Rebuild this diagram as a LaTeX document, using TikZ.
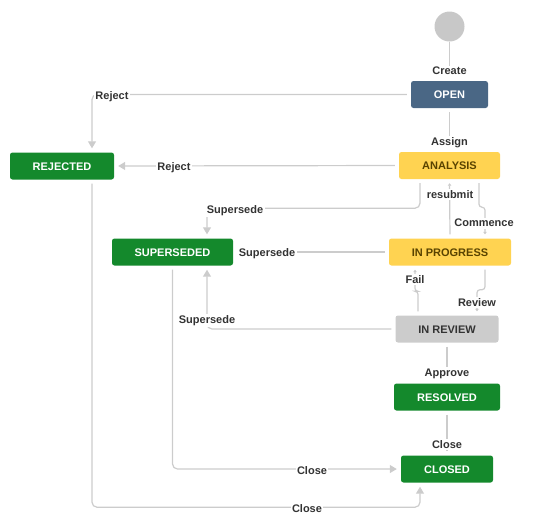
\documentclass[tikz,border=0pt]{standalone}
\usepackage{fontspec}
\setmainfont{Liberation Sans}
\usetikzlibrary{arrows.meta}
\definecolor{jgreen}{HTML}{14892C}
\definecolor{jblue}{HTML}{4A6785}
\definecolor{jyellow}{HTML}{FFD351}
\definecolor{jytext}{HTML}{594300}
\definecolor{jgray}{HTML}{CCCCCC}
\definecolor{jtext}{HTML}{333333}
\definecolor{linec}{HTML}{CCCCCC}
\definecolor{startc}{HTML}{C8C8C8}
\tikzset{
  state/.style={rectangle, rounded corners=2.5pt, inner sep=0pt, minimum height=27pt,
    font=\fontsize{11}{13}\selectfont\bfseries, text=white, text depth=0pt, text height=8pt},
  greenst/.style={state, fill=jgreen},
  bluest/.style={state, fill=jblue},
  yellowst/.style={state, fill=jyellow, text=jytext},
  grayst/.style={state, fill=jgray, text=jtext},
  conn/.style={draw=linec, line width=1.2pt, rounded corners=5pt, shorten <=4pt, shorten >=4pt},
  big/.style={-{Triangle[length=7pt,width=8pt]}},
  small/.style={-{Triangle[length=2.5pt,width=3.5pt]}},
  lbl/.style={fill=white, inner sep=1.5pt, text=jtext, yshift=-1.2pt,
    font=\fontsize{11}{13}\selectfont\bfseries}
}
\begin{document}
\begin{tikzpicture}[x=1pt,y=-1pt]
\useasboundingbox (0,0) rectangle (534,523);
% states
\node[circle, fill=startc, minimum size=30pt, inner sep=0pt] (start) at (449.5,26.5) {};
\node[bluest, minimum width=77pt] (open) at (449.5,94.5) {OPEN};
\node[yellowst, minimum width=101pt] (analysis) at (449.5,165.5) {ANALYSIS};
\node[greenst, minimum width=104pt] (rejected) at (62,166) {REJECTED};
\node[greenst, minimum width=121pt] (superseded) at (172.5,252) {SUPERSEDED};
\node[yellowst, minimum width=122pt] (inprogress) at (450,252) {IN PROGRESS};
\node[grayst, minimum width=103pt] (inreview) at (447,329) {IN REVIEW};
\node[greenst, minimum width=106pt] (resolved) at (447,397) {RESOLVED};
\node[greenst, minimum width=92pt] (closed) at (447,469) {CLOSED};
% connectors
\draw[conn, shorten <=0pt] (start) -- (open);
\draw[conn] (open) -- (analysis);
\draw[conn, big] (open.west) -| ([xshift=30pt]rejected.north);
\draw[conn, big] (analysis.west) -- (rejected.east);
\draw[conn, big] ([xshift=-29.5pt]analysis.south) -- ++(0,29) -| ([xshift=34.5pt]superseded.north);
\draw[conn, small] (inprogress.north) -- (analysis.south);
\draw[conn, small, rounded corners=3pt] ([xshift=29.5pt]analysis.south) -- ++(0,28) -| ([xshift=35pt]inprogress.north);
\draw[conn] (inprogress.west) -- (superseded.east);
\draw[conn, small, rounded corners=3pt] ([xshift=-29pt]inreview.north) -- ++(0,-24) -| ([xshift=-35pt]inprogress.south);
\draw[conn, small, rounded corners=3pt] ([xshift=35pt]inprogress.south) -- ++(0,24) -| ([xshift=30pt]inreview.north);
\draw[conn, big] (inreview.west) -| ([xshift=34.5pt]superseded.south);
\draw[conn] (inreview) -- (resolved);
\draw[conn] (resolved) -- (closed);
\draw[conn, big] (superseded.south) |- (closed.west);
\draw[conn, big] ([xshift=30pt]rejected.south) -- ++(0,327.5) -| ([xshift=-27pt]closed.south);
% labels
\node[lbl] (lcreate) at (449.5,70) {Create};
\node[lbl] (lassign) at (449.5,141) {Assign};
\node[lbl] (lreject1) at (112,95) {Reject};
\node[lbl] (lreject2) at (174,166) {Reject};
\node[lbl] (lsup1) at (235,209) {Supersede};
\node[lbl] (lresub) at (450,193) {resubmit};
\node[lbl] (lcomm) at (484,222) {Commence};
\node[lbl] (lsup2) at (267,252) {Supersede};
\node[lbl] (lfail) at (415,278) {Fail};
\node[lbl] (lreview) at (477,301) {Review};
\node[lbl] (lsup3) at (207,319) {Supersede};
\node[lbl] (lapprove) at (447,372.5) {Approve};
\node[lbl] (lclose1) at (447,443) {Close};
\node[lbl] (lclose2) at (312,469) {Close};
\node[lbl] (lclose3) at (307,507) {Close};
\end{tikzpicture}
\end{document}
